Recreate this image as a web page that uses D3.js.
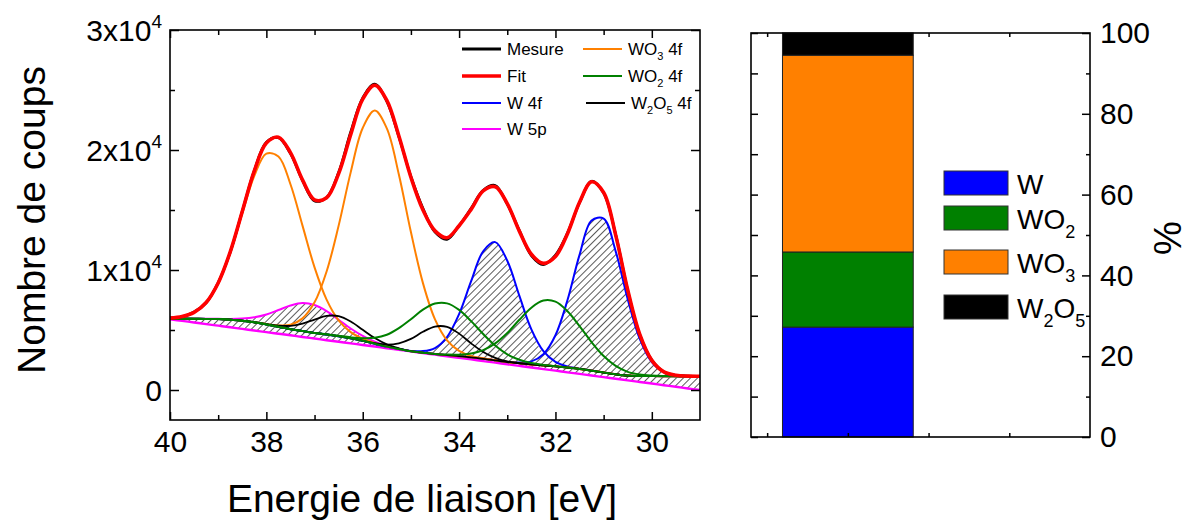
<!DOCTYPE html>
<html><head><meta charset="utf-8">
<script src="https://cdn.jsdelivr.net/npm/d3@7"></script>
<style>body{margin:0;background:#fff}svg{display:block}</style>
</head><body><svg id="chart" width="1190" height="522"></svg>
<script>
// ---------- data ----------
const energy = [40,39.75,39.5,39.25,39,38.75,38.5,38.25,38,37.75,37.5,37.25,37,36.75,36.5,36.25,36,35.75,35.5,35.25,35,34.75,34.5,34.25,34,33.75,33.5,33.25,33,32.75,32.5,32.25,32,31.75,31.5,31.25,31,30.75,30.5,30.25,30,29.75,29.5,29.25,29];
const baseline = [5900,5760,5630,5490,5360,5230,5090,4960,4820,4690,4560,4420,4290,4150,4020,3890,3750,3620,3480,3350,3220,3080,2950,2810,2680,2550,2410,2280,2140,2010,1880,1740,1610,1470,1340,1210,1070,940,800,670,540,400,270,130,0];
const background = [5950,5945,5935,5925,5913,5860,5777,5640,5462,5270,5067,4910,4754,4630,4487,4310,4104,3860,3616,3420,3227,3110,2996,2910,2820,2720,2600,2470,2328,2230,2128,2050,1973,1870,1758,1610,1450,1310,1200,1170,1160,1155,1152,1150,1150];
const mesure = [6010,6100,6500,7260,8950,11480,14900,18300,20650,21020,19700,17450,15750,16050,18150,21500,24350,25500,24050,21100,17800,15150,13150,12550,13700,15150,16650,17050,15480,13300,11200,10450,11250,13100,15600,17400,16400,12950,8300,4600,2500,1520,1220,1170,1140];
const fit = [5990,6120,6470,7290,8920,11510,14880,18260,20580,21070,19780,17510,15850,16020,18030,21280,24240,25400,24140,21170,17730,15000,13260,12690,13690,15050,16590,16940,15530,13240,11310,10550,11130,13030,15650,17350,16460,12910,8330,4630,2470,1510,1230,1160,1150];
const wo3_52 = [6000,6122,6467,7288,8898,11446,14703,17835,19692,19455,17147,13699,10219,7532,5804,4820,4273,3908,3628,3422,3227,3110,2996,2910,2820,2720,2600,2470,2328,2230,2128,2050,1973,1870,1758,1610,1450,1310,1200,1170,1160,1155,1152,1150,1150];
const wo3_72 = [5950,5945,5935,5925,5913,5860,5777,5647,5491,5384,5442,5969,7304,9874,13697,18136,21835,23285,21798,17957,13160,8908,5888,4142,3268,2834,2637,2476,2328,2230,2128,2050,1973,1870,1758,1610,1450,1310,1200,1170,1160,1155,1152,1150,1150];
const w5p = [5950,5945,5936,5930,5931,5922,5953,6057,6294,6665,7035,7243,7079,6578,5858,5122,4508,4029,3675,3438,3231,3110,2996,2910,2820,2720,2600,2470,2328,2230,2128,2050,1973,1870,1758,1610,1450,1310,1200,1170,1160,1155,1152,1150,1150];
const w2o5_52 = [5950,5945,5935,5925,5913,5860,5778,5645,5487,5364,5343,5539,5871,6176,6154,5709,5019,4326,3801,3477,3241,3113,2996,2910,2820,2720,2600,2470,2328,2230,2128,2050,1973,1870,1758,1610,1450,1310,1200,1170,1160,1155,1152,1150,1150];
const w2o5_72 = [5950,5945,5935,5925,5913,5860,5777,5640,5462,5270,5067,4910,4754,4630,4487,4312,4114,3908,3786,3895,4258,4853,5290,5262,4698,3888,3166,2683,2391,2244,2131,2050,1973,1870,1758,1610,1450,1310,1200,1170,1160,1155,1152,1150,1150];
const wo2_52 = [5950,5945,5935,5925,5913,5860,5777,5640,5462,5270,5067,4910,4756,4638,4514,4391,4317,4350,4604,5158,5898,6697,7202,7220,6678,5736,4661,3700,2969,2522,2244,2090,1985,1873,1758,1610,1450,1310,1200,1170,1160,1155,1152,1150,1150];
const wo2_72 = [5950,5945,5935,5925,5913,5860,5777,5640,5462,5270,5067,4910,4754,4630,4487,4310,4104,3860,3616,3420,3227,3113,3009,2953,2945,3041,3321,3883,4747,5850,6858,7451,7359,6562,5329,3984,2829,2010,1510,1290,1201,1167,1155,1150,1150];
const w4f_52 = [5950,5945,5935,5925,5913,5860,5777,5640,5462,5270,5067,4910,4754,4630,4487,4310,4104,3860,3616,3424,3254,3241,3499,4413,6320,9065,11559,12322,10766,7858,5051,3232,2345,1962,1775,1613,1450,1310,1200,1170,1160,1155,1152,1150,1150];
const w4f_72 = [5950,5945,5935,5925,5913,5860,5777,5640,5462,5270,5067,4910,4754,4630,4487,4310,4104,3860,3616,3420,3227,3110,2996,2910,2820,2720,2600,2471,2338,2286,2387,2979,4563,7493,11263,14124,14281,11555,7572,4255,2324,1497,1230,1164,1152];

const xMajorTicks = [40,38,36,34,32,30];
const xMinorTicks = [39,37,35,33,31];
const yMajorTicks = [0,10000,20000,30000];
const yMinorTicks = [5000,15000,25000];
const yTickMantissa = ["0","1x10","2x10","3x10"];

const phases = ["W","WO2","WO3","W2O5"];
const phaseShares = [27.2,18.6,48.7,5.5];
const phaseColors = ["#0000ff","#008000","#ff8000","#000000"];
const pctMajorTicks = [0,20,40,60,80,100];
const pctMinorTicks = [10,30,50,70,90];

// ---------- setup ----------
const FONT = '"Liberation Sans", Arial, Helvetica, sans-serif';
const svg = d3.select("#chart").attr("font-family", FONT);
const defs = svg.append("defs");
defs.append("clipPath").attr("id","clipL").append("rect")
  .attr("x",170).attr("y",30).attr("width",530).attr("height",390);
const pat = defs.append("pattern").attr("id","hatch").attr("patternUnits","userSpaceOnUse")
  .attr("width",5).attr("height",5).attr("patternTransform","rotate(45)");
pat.append("line").attr("x1",0).attr("y1",0).attr("x2",0).attr("y2",5)
  .attr("stroke","#000").attr("stroke-width",1.3);

const x = d3.scaleLinear().domain([40,29]).range([170,700]);
const y = d3.scaleLinear().domain([-2500,30000]).range([420,30]);
const curve = d3.curveCatmullRom.alpha(0.5);
const line = d3.line().x((d,i)=>x(energy[i])).y(d=>y(d)).curve(curve);

const plot = svg.append("g").attr("clip-path","url(#clipL)");

// hatched metallic W area (W 4f + W 5p) above the linear baseline
const hatchTop = energy.map((e,i)=>Math.max(background[i], w4f_52[i], w4f_72[i], w5p[i]));
const area = d3.area().x((d,i)=>x(energy[i])).y0((d,i)=>y(baseline[i])).y1(d=>y(d)).curve(curve);
plot.append("path").datum(hatchTop).attr("d",area).attr("fill","url(#hatch)");

const comps = [
  {d: baseline, c:"#ff00ff", w:2.4},
  {d: w5p, c:"#ff00ff", w:2},
  {d: w4f_52, c:"#0000ff", w:2},
  {d: w4f_72, c:"#0000ff", w:2},
  {d: wo3_52, c:"#ff8000", w:2},
  {d: wo3_72, c:"#ff8000", w:2},
  {d: w2o5_52, c:"#000000", w:1.8},
  {d: w2o5_72, c:"#000000", w:1.8},
  {d: wo2_52, c:"#008000", w:2},
  {d: wo2_72, c:"#008000", w:2},
  {d: mesure, c:"#000000", w:2.6},
  {d: fit, c:"#ff0000", w:3.6}
];
comps.forEach(s=>{
  plot.append("path").datum(s.d).attr("d",line).attr("fill","none")
    .attr("stroke",s.c).attr("stroke-width",s.w).attr("stroke-linejoin","round");
});

// frame + axes (left panel)
function styleAxis(g){
  g.selectAll("line").attr("stroke","#000").attr("stroke-width",1.5);
  g.select(".domain").remove();
  g.selectAll("text").attr("font-family",FONT).attr("fill","#000");
}
svg.append("g").attr("transform","translate(0,420)")
  .call(d3.axisBottom(x).tickValues(xMajorTicks).tickSize(-8).tickSizeOuter(0).tickPadding(11).tickFormat(d3.format("d")))
  .call(styleAxis).selectAll("text").attr("font-size",30);
svg.append("g").attr("transform","translate(0,420)")
  .call(d3.axisBottom(x).tickValues(xMinorTicks).tickSize(-5).tickSizeOuter(0).tickFormat(""))
  .call(styleAxis);
svg.append("g").attr("transform","translate(0,30)")
  .call(d3.axisTop(x).tickValues(xMajorTicks).tickSize(-8).tickSizeOuter(0).tickFormat(""))
  .call(styleAxis);
svg.append("g").attr("transform","translate(0,30)")
  .call(d3.axisTop(x).tickValues(xMinorTicks).tickSize(-5).tickSizeOuter(0).tickFormat(""))
  .call(styleAxis);
const yAx = svg.append("g").attr("transform","translate(170,0)")
  .call(d3.axisLeft(y).tickValues(yMajorTicks).tickSize(-9).tickSizeOuter(0).tickPadding(10).tickFormat(""))
  .call(styleAxis);
yAx.selectAll(".tick").each(function(d,i){
  const t = d3.select(this).append("text").attr("x",-8).attr("dy","0.35em")
    .attr("text-anchor","end").attr("font-size",30).attr("fill","#000").attr("font-family",FONT);
  t.append("tspan").text(yTickMantissa[i]);
  if (d !== 0) t.append("tspan").attr("font-size",19).attr("dy",-13).text("4");
});
svg.append("g").attr("transform","translate(170,0)")
  .call(d3.axisLeft(y).tickValues(yMinorTicks).tickSize(-5).tickSizeOuter(0).tickFormat(""))
  .call(styleAxis);
svg.append("g").attr("transform","translate(700,0)")
  .call(d3.axisRight(y).tickValues(yMajorTicks).tickSize(-9).tickSizeOuter(0).tickFormat(""))
  .call(styleAxis);
svg.append("g").attr("transform","translate(700,0)")
  .call(d3.axisRight(y).tickValues(yMinorTicks).tickSize(-5).tickSizeOuter(0).tickFormat(""))
  .call(styleAxis);
svg.append("rect").attr("x",170).attr("y",30).attr("width",530).attr("height",390)
  .attr("fill","none").attr("stroke","#000").attr("stroke-width",1.6);

svg.append("text").attr("x",422).attr("y",512).attr("text-anchor","middle")
  .attr("font-size",39).text("Energie de liaison [eV]");
svg.append("text").attr("transform","translate(45,220) rotate(-90)").attr("text-anchor","middle")
  .attr("font-size",39).text("Nombre de coups");

// subscripts helper: parts = [[text, isSub], ...]
function addParts(t, parts, sfs, sdy){
  let sub = false;
  parts.forEach(p=>{
    const ts = t.append("tspan").text(p[0]);
    if (p[1]) {
      ts.attr("font-size",sfs);
      if (!sub) { ts.attr("dy",sdy); sub = true; }
    } else if (sub) { ts.attr("dy",-sdy); sub = false; }
  });
}

// left legend
const legendL = [
  {parts:[["Mesure",0]], c:"#000", w:3, x:462, y:49},
  {parts:[["Fit",0]], c:"#ff0000", w:3.5, x:462, y:76},
  {parts:[["W 4f",0]], c:"#0000ff", w:2, x:462, y:103},
  {parts:[["W 5p",0]], c:"#ff00ff", w:2, x:462, y:129},
  {parts:[["WO",0],["3",1],[" 4f",0]], c:"#ff8000", w:2, x:583, y:49},
  {parts:[["WO",0],["2",1],[" 4f",0]], c:"#008000", w:2, x:583, y:76},
  {parts:[["W",0],["2",1],["O",0],["5",1],[" 4f",0]], c:"#000", w:2, x:586, y:103}
];
legendL.forEach(l=>{
  svg.append("line").attr("x1",l.x).attr("x2",l.x+39).attr("y1",l.y).attr("y2",l.y)
    .attr("stroke",l.c).attr("stroke-width",l.w);
  const t = svg.append("text").attr("x",l.x+45).attr("y",l.y+6).attr("font-size",17);
  addParts(t,l.parts,11,5);
});

// ---------- right panel ----------
const xr = d3.scaleLinear().domain([-0.2,4.0]).range([751,1090]);
const yr = d3.scaleLinear().domain([0,100]).range([437,33]);
let cum = 0;
const stacked = phaseShares.map((v,i)=>{ const s={y0:cum,y1:cum+v,c:phaseColors[i]}; cum+=v; return s; });
svg.append("g").selectAll("rect").data(stacked).join("rect")
  .attr("x",xr(1-0.81)).attr("width",xr(1+0.81)-xr(1-0.81))
  .attr("y",d=>yr(d.y1)).attr("height",d=>yr(d.y0)-yr(d.y1))
  .attr("fill",d=>d.c).attr("stroke","#222").attr("stroke-width",1);

const rAx = svg.append("g").attr("transform","translate(1090,0)")
  .call(d3.axisRight(yr).tickValues(pctMajorTicks).tickSize(-8).tickSizeOuter(0).tickPadding(10).tickFormat(d3.format("d")))
  .call(styleAxis);
rAx.selectAll("text").attr("font-size",30);
svg.append("g").attr("transform","translate(1090,0)")
  .call(d3.axisRight(yr).tickValues(pctMinorTicks).tickSize(-4).tickSizeOuter(0).tickFormat(""))
  .call(styleAxis);
svg.append("g").attr("transform","translate(751,0)")
  .call(d3.axisLeft(yr).tickValues(pctMajorTicks.concat(pctMinorTicks)).tickSize(-7).tickSizeOuter(0).tickFormat(""))
  .call(styleAxis);
svg.append("g").attr("transform","translate(0,33)")
  .call(d3.axisTop(xr).tickValues([0,1,2,3]).tickSize(-4).tickSizeOuter(0).tickFormat(""))
  .call(styleAxis);
svg.append("g").attr("transform","translate(0,437)")
  .call(d3.axisBottom(xr).tickValues([0,1,2,3]).tickSize(-4).tickSizeOuter(0).tickFormat(""))
  .call(styleAxis);
svg.append("rect").attr("x",751).attr("y",33).attr("width",339).attr("height",404)
  .attr("fill","none").attr("stroke","#000").attr("stroke-width",1.6);
svg.append("text").attr("transform","translate(1181,238) rotate(-90)").attr("text-anchor","middle")
  .attr("font-size",38).text("%");

// right legend
const legendR = [
  {parts:[["W",0]], y:171},
  {parts:[["WO",0],["2",1]], y:206},
  {parts:[["WO",0],["3",1]], y:250},
  {parts:[["W",0],["2",1],["O",0],["5",1]], y:295}
];
legendR.forEach((l,i)=>{
  svg.append("rect").attr("x",944).attr("y",l.y).attr("width",64).attr("height",24)
    .attr("fill",phaseColors[i]).attr("stroke","#333").attr("stroke-width",1);
  const t = svg.append("text").attr("x",1017).attr("y",l.y+23).attr("font-size",28);
  addParts(t,l.parts,18,9);
});
</script>
</body></html>
